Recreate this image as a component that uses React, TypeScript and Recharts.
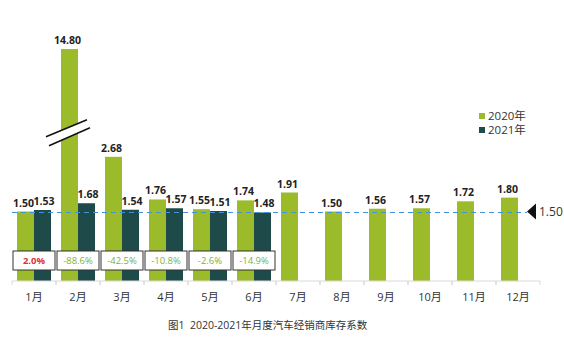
import React from 'react';
import { BarChart, Bar, XAxis, YAxis, LabelList, ReferenceLine } from 'recharts';

const months = ['1月', '2月', '3月', '4月', '5月', '6月', '7月', '8月', '9月', '10月', '11月', '12月'];
const values2020 = [1.5, 14.8, 2.68, 1.76, 1.55, 1.74, 1.91, 1.5, 1.56, 1.57, 1.72, 1.8];
const values2021: (number | null)[] = [1.53, 1.68, 1.54, 1.57, 1.51, 1.48, null, null, null, null, null, null];
const changes: (number | null)[] = [2.0, -88.6, -42.5, -10.8, -2.6, -14.9, null, null, null, null, null, null];
const seriesNames = ['2020年', '2021年'];
const warningLine = 1.5;
const caption = '图1  2020-2021年月度汽车经销商库存系数';

// axis break: values above BREAK_AT are compressed
const BREAK_AT = 3;
const BREAK_FACTOR = 0.17;
const BREAK_MARK = 3.2;
const toDisplay = (v: number | null) =>
  v == null ? null : v > BREAK_AT ? BREAK_AT + (v - BREAK_AT) * BREAK_FACTOR : v;

const data = months.map((m, i) => ({
  month: m,
  v2020: values2020[i],
  d2020: toDisplay(values2020[i]),
  v2021: values2021[i],
  d2021: toDisplay(values2021[i]),
  change: changes[i],
}));

const C2020 = '#9bbb2b';
const C2021 = '#1f4a4a';
const CREF = '#3f94da';
const FONT = '"Open Sans", "Noto Sans CJK SC", sans-serif';

const Bar2020Shape = (props: any) => {
  const { x, y, width, height, payload } = props;
  const els: React.ReactNode[] = [
    <rect key="r" x={x} y={y} width={width} height={height} fill={C2020} />,
  ];
  if (payload && payload.v2020 > BREAK_AT) {
    const disp = payload.d2020;
    const yb = y + height * (1 - BREAK_MARK / disp);
    const p1s = [x - 15, yb + 4];
    const p1e = [x + width + 9, yb - 13];
    const p2s = [x - 12, yb + 13];
    const p2e = [x + width + 12, yb - 5];
    els.push(
      <polygon
        key="p"
        points={`${p1s[0]},${p1s[1]} ${p1e[0]},${p1e[1]} ${p2e[0]},${p2e[1]} ${p2s[0]},${p2s[1]}`}
        fill="#fff"
      />,
      <line key="l1" x1={p1s[0]} y1={p1s[1]} x2={p1e[0]} y2={p1e[1]} stroke="#111" strokeWidth={1.5} />,
      <line key="l2" x1={p2s[0]} y1={p2s[1]} x2={p2e[0]} y2={p2e[1]} stroke="#111" strokeWidth={1.5} />
    );
  }
  return <g>{els}</g>;
};

const ChangeBox = (props: any) => {
  const { x, y, height, value } = props;
  if (value == null) return null;
  const base = y + height;
  const bw = 42;
  const bh = 19;
  const top = base - 30;
  const pos = value > 0;
  return (
    <g>
      <rect x={x - bw / 2} y={top} width={bw} height={bh} fill="#fff" stroke="#333" strokeWidth={1} />
      <text
        x={x}
        y={top + bh / 2 + 3.5}
        textAnchor="middle"
        fontSize={9.5}
        fontFamily={FONT}
        fontWeight={pos ? 700 : 400}
        fill={pos ? '#e0303a' : '#7fb03c'}
      >
        {`${value.toFixed(1)}%`}
      </text>
    </g>
  );
};

const CategoryTick = (props: any) => {
  const { x, y, payload } = props;
  return (
    <g>
      <line x1={x - 22} y1={y - 8} x2={x - 22} y2={y - 4} stroke="#d9d9d9" />
      <line x1={x + 22} y1={y - 8} x2={x + 22} y2={y - 4} stroke="#d9d9d9" />
      <text x={x} y={y + 12} textAnchor="middle" fontSize={11} fontFamily={FONT} fill="#333">
        {payload.value}
      </text>
    </g>
  );
};

const RefShape = (props: any) => {
  const { x1, y1, x2 } = props;
  const end = x2 - 13;
  const yy = Math.round(y1) + 0.5;
  return (
    <g>
      <path d={`M${x1},${yy}H${end}`} stroke={CREF} strokeWidth={1.2} strokeDasharray="5 4" fill="none" />
      <polygon points={`${end},${y1} ${end + 9},${y1 - 8} ${end + 9},${y1 + 8}`} fill="#111" />
      <text x={end + 12} y={y1 + 4.5} fontSize={12} fontFamily={FONT} fill="#333">
        {warningLine.toFixed(2)}
      </text>
    </g>
  );
};

const makeValueLabel = (dx: number) => (props: any) => {
  const { x, y, width, value } = props;
  if (value == null) return null;
  return (
    <text
      x={x + width / 2 + dx}
      y={y - 5}
      textAnchor="middle"
      fontSize={10.5}
      fontWeight={700}
      fontFamily={FONT}
      fill="#222"
    >
      {Number(value).toFixed(2)}
    </text>
  );
};

export default function App() {
  return (
    <div style={{ position: 'absolute', left: 0, top: 0, width: 564, height: 356, background: '#fff' }}>
      <BarChart
        width={564}
        height={356}
        data={data}
        margin={{ top: 3, right: 24, left: 12, bottom: 45 }}
        barCategoryGap={5}
        barGap={0}
      >
        <XAxis
          dataKey="month"
          height={30}
          axisLine={{ stroke: '#d9d9d9' }}
          tickLine={false}
          tick={<CategoryTick />}
          interval={0}
        />
        <YAxis hide domain={[0, 6]} />
        <ReferenceLine y={warningLine} shape={<RefShape />} ifOverflow="visible" />
        <Bar dataKey="d2020" fill={C2020} isAnimationActive={false} shape={<Bar2020Shape />}>
          <LabelList dataKey="v2020" content={makeValueLabel(-2)} />
        </Bar>
        <Bar dataKey="d2021" fill={C2021} isAnimationActive={false}>
          <LabelList dataKey="v2021" content={makeValueLabel(1.5)} />
          <LabelList dataKey="change" content={<ChangeBox />} />
        </Bar>
      </BarChart>
      <div style={{ position: 'absolute', left: 479, top: 109, fontFamily: FONT, fontSize: 11.5, color: '#333', lineHeight: '14px' }}>
        {seriesNames.map((n, i) => (
          <div key={n} style={{ display: 'flex', alignItems: 'center' }}>
            <span style={{ width: 6, height: 6, background: i === 0 ? C2020 : C2021, display: 'inline-block', marginRight: 3 }} />
            <span>{n}</span>
          </div>
        ))}
      </div>
      <div style={{ position: 'absolute', left: 168, top: 317, fontFamily: FONT, fontSize: 10.5, color: '#333', whiteSpace: 'pre' }}>
        {caption}
      </div>
    </div>
  );
}
